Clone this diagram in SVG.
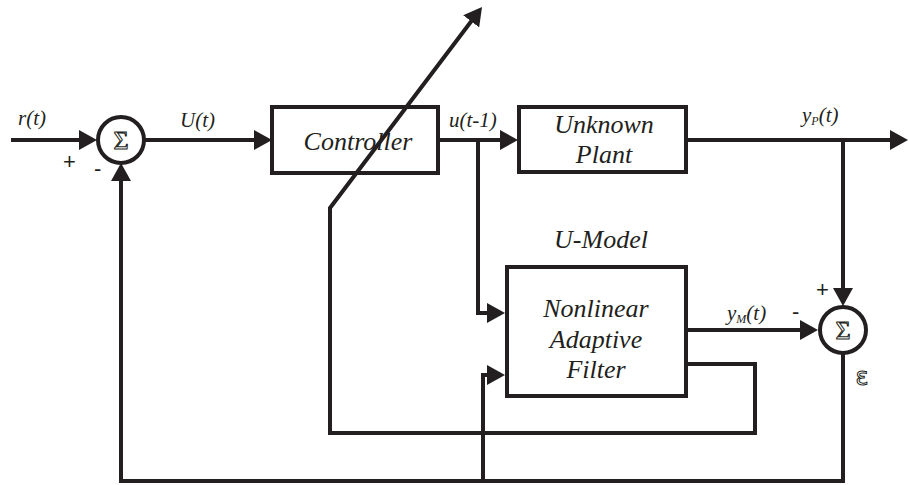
<svg xmlns="http://www.w3.org/2000/svg" width="909" height="485" viewBox="0 0 909 485">
<style>
.box{fill:#fff;stroke:#231f20;stroke-width:4}
.sum{fill:#fff;stroke:#231f20;stroke-width:4}
.ln{fill:none;stroke:#231f20;stroke-width:4;stroke-linejoin:miter}
.t{font-style:italic;fill:#231f20}
.blk{font-size:26px;text-anchor:middle}
.lbl{font-size:21px}
.sg{font-size:26px;fill:#fff;stroke:#231f20;stroke-width:1;text-anchor:middle}
.pm{font-size:22px;fill:#231f20}
</style>
<defs>
<marker id="ah" markerUnits="userSpaceOnUse" markerWidth="18" markerHeight="20" refX="8" refY="10" orient="auto" viewBox="0 0 18 20">
<path d="M0,0 L18,10 L0,20 Z" fill="#231f20"/>
</marker>
</defs>
<g id="sum1">
<circle class="sum" cx="121" cy="140" r="23"/>
<text class="sg" font-family="Liberation Serif, serif" x="121" y="149">Σ</text>
<text class="pm" font-family="Liberation Sans, sans-serif" x="63" y="169">+</text>
<text class="pm" font-family="Liberation Sans, sans-serif" x="94" y="176">-</text>
</g>
<g id="controller">
<rect class="box" x="272" y="107" width="166" height="66"/>
<text class="t blk" font-family="Liberation Serif, serif" x="358" y="150">Controller</text>
</g>
<g id="plant">
<rect class="box" x="519" y="107" width="167" height="65"/>
<text class="t blk" font-family="Liberation Serif, serif" x="604" y="133">Unknown</text>
<text class="t blk" font-family="Liberation Serif, serif" x="604" y="163">Plant</text>
</g>
<g id="umodel">
<text class="t blk" font-family="Liberation Serif, serif" x="601" y="248">U-Model</text>
<rect class="box" x="507" y="267" width="179" height="129"/>
<text class="t blk" font-family="Liberation Serif, serif" x="596" y="317">Nonlinear</text>
<text class="t blk" font-family="Liberation Serif, serif" x="596" y="348">Adaptive</text>
<text class="t blk" font-family="Liberation Serif, serif" x="596" y="378">Filter</text>
</g>
<g id="sum2">
<circle class="sum" cx="843" cy="330" r="23"/>
<text class="sg" font-family="Liberation Serif, serif" x="843" y="339">Σ</text>
<text class="pm" font-family="Liberation Sans, sans-serif" x="816" y="297">+</text>
<text class="pm" font-family="Liberation Sans, sans-serif" x="792" y="319">-</text>
<text x="862" y="385" font-family="DejaVu Sans, sans-serif" font-size="24" fill="#fff" stroke="#231f20" stroke-width="1" text-anchor="middle">ε</text>
</g>
<g id="labels">
<text class="t lbl" font-family="Liberation Serif, serif" x="18" y="125">r(t)</text>
<text class="t lbl" font-family="Liberation Serif, serif" x="180" y="127">U(t)</text>
<text class="t lbl" font-family="Liberation Serif, serif" x="449" y="127">u(t-1)</text>
<text class="t lbl" font-family="Liberation Serif, serif" x="802" y="122">y<tspan font-size="12" dy="3">P</tspan><tspan dy="-3">(t)</tspan></text>
<text class="t lbl" font-family="Liberation Serif, serif" x="727" y="320">y<tspan font-size="12" dy="3">M</tspan><tspan dy="-3">(t)</tspan></text>
</g>
<g id="connectors">
<path class="ln" d="M11,140 H87" marker-end="url(#ah)"/>
<path class="ln" d="M144,140 H262" marker-end="url(#ah)"/>
<path class="ln" d="M438,140 H508" marker-end="url(#ah)"/>
<path class="ln" d="M478,140 V313 H495" marker-end="url(#ah)"/>
<path class="ln" d="M687,140 H898" marker-end="url(#ah)"/>
<path class="ln" d="M843,140 V296" marker-end="url(#ah)"/>
<path class="ln" d="M687,330 H808" marker-end="url(#ah)"/>
<path class="ln" d="M843,353 V481 H121 V173" marker-end="url(#ah)"/>
<path class="ln" d="M483,481 V375 H495" marker-end="url(#ah)"/>
<path class="ln" d="M687,364 H755 V433 H330 V208 L476,15" marker-end="url(#ah)"/>
</g>
</svg>
